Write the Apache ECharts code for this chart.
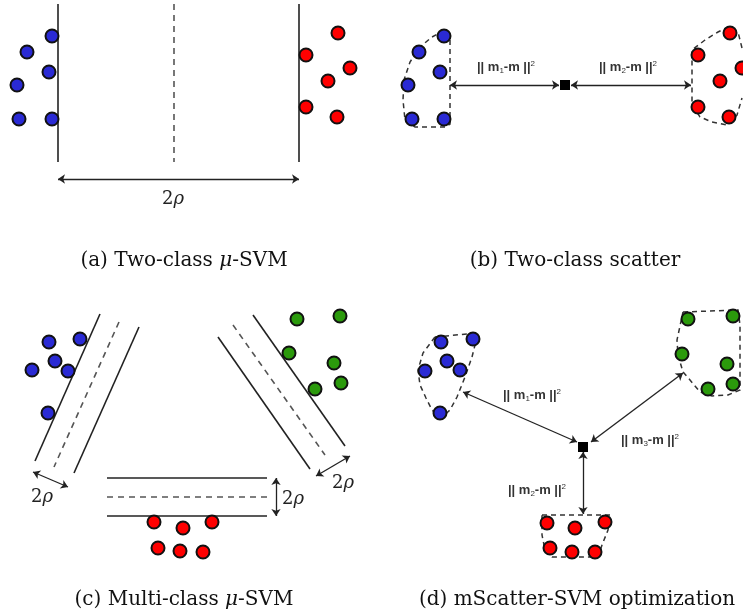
<!DOCTYPE html>
<html>
<head>
<meta charset="utf-8">
<script src="https://cdn.jsdelivr.net/npm/echarts@6/dist/echarts.min.js"></script>
<style>
  html, body { margin: 0; padding: 0; background: #fff; }
  #chart { width: 743px; height: 614px; }
</style>
</head>
<body>
<div id="chart"></div>
<script>
// points of each class, in figure units (x right, y down)
const bluePoints = [
  [52, 36], [27, 52], [49, 72], [17, 85], [19, 119], [52, 119],
  [444, 36], [419, 52], [440, 72], [408, 85], [412, 119], [444, 119],
  [49, 342], [80, 339], [55, 361], [32, 370], [68, 371], [48, 413],
  [441, 342], [473, 339], [447, 361], [425, 371], [460, 370], [440, 413]
]
const redPoints = [
  [338, 33], [306, 55], [350, 68], [328, 81], [306, 107], [337, 117],
  [730, 33], [698, 55], [742, 68], [720, 81], [698, 107], [729, 117],
  [154, 522], [183, 528], [212, 522], [158, 548], [180, 551], [203, 552],
  [547, 523], [575, 528], [605, 522], [550, 548], [572, 552], [595, 552]
]
const greenPoints = [
  [297, 319], [340, 316], [289, 353], [334, 363], [315, 389], [341, 383],
  [688, 319], [733, 316], [682, 354], [727, 364], [708, 389], [733, 384]
]
const meanPoints = [[565, 85], [583, 447]]

// margins (solid), hyperplanes (dashed), distance arrows
const solidLines = [
  [[58, 4], [58, 162]], [[299, 4], [299, 162]],
  [[100, 314], [35, 461]], [[139, 327], [74, 473]],
  [[253, 315], [345, 446]], [[218, 337], [310, 469]],
  [[107, 478], [267, 478]], [[107, 516], [267, 516]]
]
const dashedLines = [
  [[174, 4], [174, 162]],
  [[119, 322], [54, 467]],
  [[233, 325], [325, 455]],
  [[107, 497], [267, 497]]
]
const arrowLines = [
  [[58, 179], [299, 179]],
  [[450, 85], [559, 85]], [[571, 85], [691, 85]],
  [[33, 472], [68, 487]], [[316, 476], [350, 456]], [[276, 478], [276, 516]],
  [[577, 442], [463, 392]], [[591, 442], [683, 373]], [[583, 452], [583, 514]]
]
// dashed class hulls
const hulls = [
  [[450, 40], [450, 124], [446, 127], [415, 127], [405, 120], [403, 100], [404, 80], [410, 62], [420, 47], [432, 37], [443, 31], [450, 40]],
  [[742, 48], [738, 32], [728, 27], [718, 32], [705, 40], [692, 50], [692, 105], [700, 117], [712, 122], [727, 125], [737, 115], [742, 98]],
  [[435, 337], [478, 333], [472, 357], [465, 377], [457, 397], [450, 410], [441, 418], [432, 410], [426, 398], [420, 385], [418, 370], [423, 353], [435, 337]],
  [[683, 312], [738, 310], [740, 325], [740, 390], [728, 395], [712, 396], [700, 392], [690, 380], [683, 372], [678, 355], [677, 340], [680, 326], [683, 312]],
  [[542, 515], [610, 515], [608, 530], [602, 545], [598, 557], [552, 557], [545, 550], [542, 535], [542, 515]]
]

// texts
const normLabels = ['1', '2', '1', '3', '2']
const normPos = [[506, 67], [628, 67], [532, 395], [650, 440], [537, 490]]
const rhoPos = [[173, 199], [42, 497], [343, 483], [293, 499]]
const captions = [
  '(a) Two-class {i|μ}-SVM',
  '(b) Two-class scatter',
  '(c) Multi-class {i|μ}-SVM',
  '(d) mScatter-SVM optimization'
]
const captionPos = [[184, 261], [575, 261], [184, 600], [577, 600]]

const chart = echarts.init(document.getElementById('chart'))

function pointSeries(data, color) {
  return {
    type: 'scatter',
    data: data,
    symbolSize: 13,
    itemStyle: { color: color, borderColor: '#111', borderWidth: 2, opacity: 1 },
    z: 5
  }
}

function segs(list) {
  return list.map(c => ({ coords: c }))
}

// text placed on an invisible point
function textSeries(data, label) {
  return {
    type: 'scatter',
    data: data,
    symbolSize: 0,
    itemStyle: { opacity: 1 },
    z: 7,
    label: Object.assign({
      show: true,
      position: [0, 0],
      align: 'center',
      verticalAlign: 'middle',
      textBorderWidth: 0
    }, label)
  }
}

const serif = 'DejaVu Serif'
const sans = 'Liberation Sans'

chart.setOption({
  animation: false,
  backgroundColor: '#fff',
  grid: { left: 0, right: 0, top: 0, bottom: 0 },
  xAxis: { type: 'value', min: 0, max: 743, show: false },
  yAxis: { type: 'value', min: 0, max: 614, inverse: true, show: false },
  series: [
    {
      type: 'lines',
      coordinateSystem: 'cartesian2d',
      data: segs(solidLines),
      lineStyle: { color: '#222', width: 1.6, opacity: 1 }
    },
    {
      type: 'lines',
      coordinateSystem: 'cartesian2d',
      data: segs(dashedLines),
      lineStyle: { color: '#555', width: 1.6, type: [6, 5], opacity: 1 }
    },
    {
      type: 'lines',
      coordinateSystem: 'cartesian2d',
      polyline: true,
      data: segs(hulls),
      lineStyle: { color: '#333', width: 1.5, type: [5, 4], opacity: 1 }
    },
    {
      type: 'lines',
      coordinateSystem: 'cartesian2d',
      data: segs(arrowLines),
      symbol: ['arrow', 'arrow'],
      symbolSize: 7,
      lineStyle: { color: '#222', width: 1.3, opacity: 1 }
    },
    pointSeries(bluePoints, '#2a2ad4'),
    pointSeries(redPoints, '#ff0000'),
    pointSeries(greenPoints, '#2b9a0c'),
    {
      type: 'scatter',
      data: meanPoints,
      symbol: 'rect',
      symbolSize: 10,
      itemStyle: { color: '#000', opacity: 1 },
      z: 6
    },
    textSeries(normPos.map((p, i) => [p[0], p[1], normLabels[i]]), {
      formatter: p => '{n||| m}{s|' + p.data[2] + '}{n|-m ||}{u|2}',
      rich: {
        n: { fontFamily: sans, fontWeight: 'bold', fontSize: 13, color: '#333' },
        s: { fontFamily: sans, fontSize: 8, color: '#333', padding: [7, 0, 0, 0] },
        u: { fontFamily: sans, fontSize: 8, color: '#333', padding: [0, 0, 7, 0] }
      }
    }),
    textSeries(rhoPos, {
      formatter: '{n|2}{i|ρ}',
      rich: {
        n: { fontFamily: serif, fontSize: 18, color: '#222' },
        i: { fontFamily: serif, fontStyle: 'italic', fontSize: 18, color: '#222' }
      }
    }),
    textSeries(captionPos.map((p, i) => [p[0], p[1], captions[i]]), {
      formatter: p => p.data[2],
      color: '#111',
      fontFamily: serif,
      fontSize: 20,
      rich: {
        i: { fontFamily: serif, fontStyle: 'italic', fontSize: 20, color: '#111' }
      }
    })
  ]
})
</script>
</body>
</html>
